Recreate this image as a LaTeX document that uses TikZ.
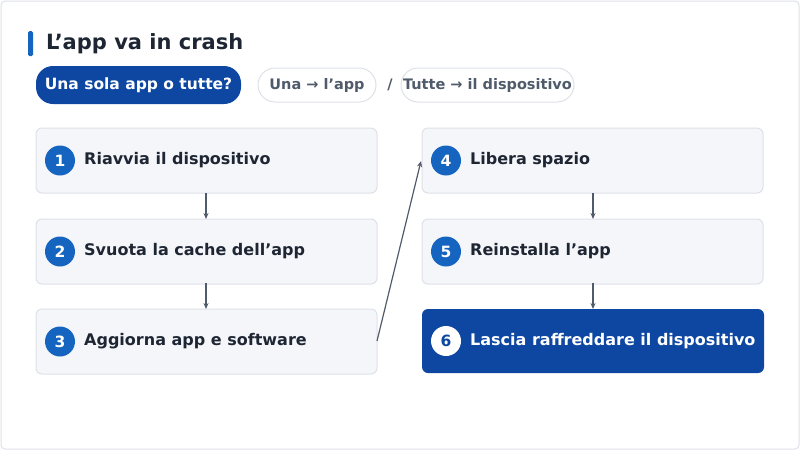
\documentclass[tikz,border=0pt]{standalone}
\usepackage{fontspec}
\setmainfont{DejaVu Sans}
\usetikzlibrary{arrows.meta}
\definecolor{navy}{HTML}{0D47A1}
\definecolor{blu}{HTML}{1565C0}
\definecolor{ink}{HTML}{1E2633}
\definecolor{slate}{HTML}{4F5B6B}
\definecolor{boxbg}{HTML}{F5F6FA}
\definecolor{boxln}{HTML}{DDE1E7}
\begin{document}
\begin{tikzpicture}[x=1pt,y=-1pt,
 box/.style={draw=boxln,fill=boxbg,rounded corners=6pt,line width=1pt},
 num/.style={circle,fill=blu,text=white,minimum size=30pt,inner sep=0pt,font=\fontsize{15.5}{15}\selectfont\bfseries},
 lab/.style={anchor=west,text=ink,font=\fontsize{16}{18}\selectfont\bfseries,inner sep=0pt},
 arr/.style={draw=slate,line width=1.2pt,-{Stealth[length=6pt,width=5pt]}},
 pill/.style={rounded corners=17pt,inner sep=0pt},
 pt/.style={text=slate,font=\fontsize{14.5}{16}\selectfont\bfseries}]
\useasboundingbox (0,0) rectangle (800,450);
\draw[boxln,rounded corners=4pt,line width=1pt] (1,1) rectangle (799,449);
\fill[blu,rounded corners=1.5pt] (28,31) rectangle (33,56);
\node[anchor=west,text=ink,font=\fontsize{21}{24}\selectfont\bfseries,inner sep=0pt] (t) at (46,44) {L’app va in crash};
\fill[pill,navy] (36,66) rectangle (241,104);
\node[text=white,font=\fontsize{15.5}{17}\selectfont\bfseries] (q) at (138.5,85) {Una sola app o tutte?};
\draw[pill,draw=boxln,fill=white,line width=1pt] (258,68) rectangle (376,102);
\node[pt] (p1) at (317,85) {Una → l’app};
\node[pt] (sl) at (390,85) {/};
\draw[pill,draw=boxln,fill=white,line width=1pt] (401,68) rectangle (574,102);
\node[pt] (p2) at (487.5,85) {Tutte → il dispositivo};
\foreach \n/\x/\y/\t in {1/36/128/Riavvia il dispositivo,2/36/219/Svuota la cache dell’app,3/36/309/Aggiorna app e software,4/422/128/Libera spazio,5/422/219/Reinstalla l’app}{
 \draw[box] (\x,\y) rectangle ++(341,65);
 \node[num] (c\n) at (\x+24,\y+32.5) {\n};
 \node[lab] (l\n) at (\x+48,\y+32.5) {\t};
}
\fill[navy,rounded corners=6pt] (422,309) rectangle (764,373);
\node[num,fill=white,text=navy] (c6) at (446,341) {6};
\node[lab,text=white] (l6) at (470,341) {Lascia raffreddare il dispositivo};
\coordinate (a1) at (206,193); \coordinate (a2) at (206,219);
\coordinate (a3) at (206,283); \coordinate (a4) at (206,309);
\coordinate (a5) at (593,193); \coordinate (a6) at (593,219);
\coordinate (a7) at (593,283); \coordinate (a8) at (593,309);
\coordinate (d1) at (377,341); \coordinate (d2) at (421,161);
\draw[arr] (a1)--(a2); \draw[arr] (a3)--(a4);
\draw[arr] (a5)--(a6); \draw[arr] (a7)--(a8);
\draw[arr] (d1)--(d2);
\end{tikzpicture}
\end{document}
